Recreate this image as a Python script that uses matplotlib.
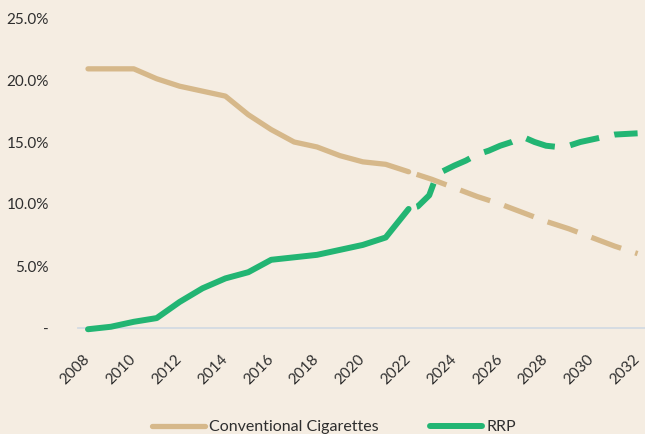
import matplotlib.pyplot as plt
import numpy as np

# actual (solid) and projected (dashed) shares, % of adults
years_act = [2008, 2009, 2010, 2011, 2012, 2013, 2014, 2015, 2016, 2017,
             2018, 2019, 2020, 2021, 2022]
cig_act = [20.9, 20.9, 20.9, 20.1, 19.5, 19.1, 18.7, 17.2, 16.0, 15.0,
           14.6, 13.9, 13.4, 13.2, 12.6]
rrp_act = [-0.1, 0.1, 0.5, 0.8, 2.1, 3.2, 4.0, 4.5, 5.5, 5.7,
           5.9, 6.3, 6.7, 7.3, 9.6]

years_cig_proj = [2022, 2023, 2024, 2025, 2026, 2027, 2028, 2029, 2030, 2031, 2032]
cig_proj = [12.6, 12.0, 11.3, 10.6, 10.0, 9.3, 8.6, 8.0, 7.3, 6.6, 6.0]

years_rrp_proj = [2022, 2022.4, 2022.9, 2023.1, 2023.45, 2024, 2024.5, 2025,
                  2025.5, 2026, 2026.5, 2027, 2027.5, 2028, 2028.5, 2029,
                  2029.5, 2030, 2030.5, 2031, 2032]
rrp_proj = [9.6, 9.8, 10.7, 11.7, 12.6, 13.1, 13.5, 14.0, 14.3, 14.7,
            15.0, 15.4, 15.0, 14.7, 14.6, 14.7, 15.0, 15.2, 15.4, 15.6, 15.7]

xticks = list(range(2008, 2033, 2))
yticks = [0, 5, 10, 15, 20, 25]
ylabels = ['-', '5.0%', '10.0%', '15.0%', '20.0%', '25.0%']

bg = '#f5ede2'
tan = '#d6b88a'
green = '#22b573'

plt.rcParams['font.family'] = ['Lato', 'DejaVu Sans']

fig = plt.figure(figsize=(6.45, 4.34), dpi=100, facecolor=bg)
ax = fig.add_axes([78 / 645, 1 - 328 / 434, 1 - 78 / 645, (328 - 18) / 434])
ax.set_facecolor(bg)

ax.plot(years_act, cig_act, color=tan, lw=3.8, solid_capstyle='round',
        solid_joinstyle='round', label='Conventional Cigarettes', zorder=3)
ax.plot(years_cig_proj, cig_proj, color=tan, lw=3.8,
        linestyle=(7.2, (6.0, 2.8)), dash_capstyle='butt', zorder=3)
ax.plot(years_act, rrp_act, color=green, lw=4.3, solid_capstyle='round',
        solid_joinstyle='round', label='RRP', zorder=4, clip_on=False)
ax.plot(years_rrp_proj, rrp_proj, color=green, lw=4.3,
        linestyle=(6.2, (5.0, 2.6)), dash_capstyle='butt', zorder=4)

ax.set_xlim(2008 - 10 / 22.9, 2008 + (645 - 88) / 22.9)
ax.set_ylim(0, 25)

for s in ['top', 'right', 'left']:
    ax.spines[s].set_visible(False)
ax.spines['bottom'].set_color('#d3dbe3')
ax.spines['bottom'].set_linewidth(1.3)

ax.set_yticks(yticks)
ax.set_yticklabels(ylabels)
ax.set_xticks(xticks)
ax.set_xticklabels([str(y) for y in xticks], rotation=45, ha='right',
                   va='center', rotation_mode='anchor')
ax.tick_params(axis='both', length=0, labelsize=11, labelcolor='#2e2e2e')
ax.tick_params(axis='x', pad=21)
ax.tick_params(axis='y', pad=21)

fig.legend(loc='center', bbox_to_anchor=(334 / 645, 1 - 427 / 434), ncol=2,
           frameon=False, fontsize=11.5, handlelength=3.3, handletextpad=0.25,
           columnspacing=3.2, labelcolor='#2e2e2e')

fig.savefig('out.png', dpi=100, facecolor=bg)
